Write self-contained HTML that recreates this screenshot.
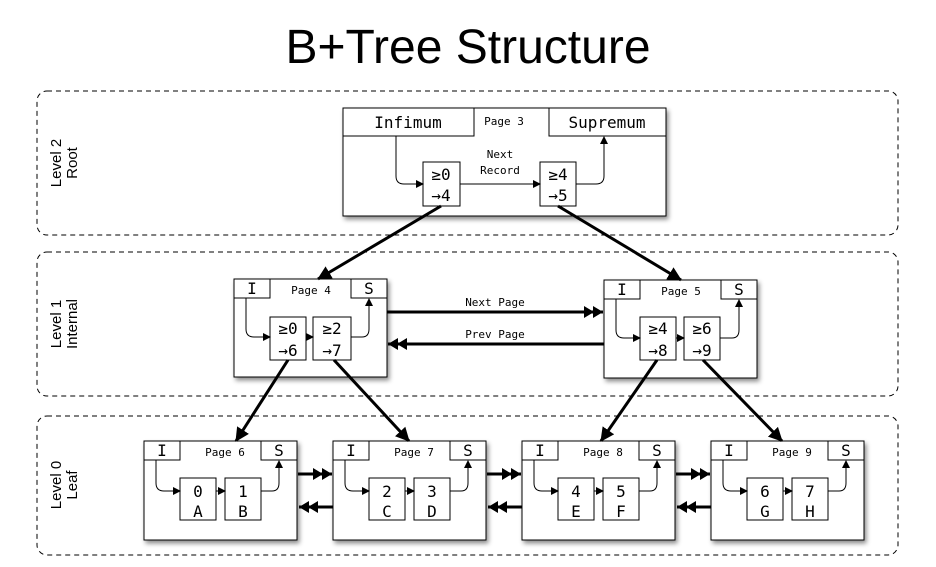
<!DOCTYPE html>
<html><head><meta charset="utf-8"><style>
body{margin:0;background:#fff;width:936px;height:562px;overflow:hidden}
svg text{font-family:"DejaVu Sans Mono","Liberation Mono",monospace;fill:#000}
</style></head><body>
<svg width="936" height="562" viewBox="0 0 936 562" xmlns="http://www.w3.org/2000/svg">
<defs>
<filter id="sh" x="-10%" y="-10%" width="130%" height="130%"><feDropShadow dx="2" dy="3" stdDeviation="2.5" flood-color="#000" flood-opacity="0.45"/></filter>
<marker id="sa" markerWidth="8" markerHeight="8" refX="7" refY="4" orient="auto" markerUnits="userSpaceOnUse"><path d="M0,0 L8,4 L0,8 z"/></marker>
<marker id="ba" markerWidth="14" markerHeight="14" refX="13" refY="7" orient="auto" markerUnits="userSpaceOnUse"><path d="M0,0 L14,7 L0,14 z"/></marker>
<marker id="da" markerWidth="20" markerHeight="12" refX="19" refY="6" orient="auto" markerUnits="userSpaceOnUse"><path d="M0,0 L10,6 L0,12 z M9,0 L19,6 L9,12 z"/></marker>
<g id="leafc" fill="none" stroke="#000" stroke-width="1">
<path d="M12,19 L12,42 Q12,50 20,50 L36,50" marker-end="url(#sa)"/>
<path d="M72,50 L81,50" marker-end="url(#sa)"/>
<path d="M117,50 L128,50 Q135,50 135,42 L135,20" marker-end="url(#sa)"/>
</g>
</defs>
<text x="468" y="63" text-anchor="middle" style="font-family:'Liberation Sans',sans-serif;font-size:48px">B+Tree Structure</text>
<g fill="none" stroke="#000" stroke-dasharray="5,4" stroke-width="1">
<rect x="37" y="91" width="861" height="144" rx="10"/>
<rect x="37" y="252" width="861" height="144" rx="10"/>
<rect x="37" y="416" width="861" height="139" rx="10"/>
</g>
<g font-size="15" text-anchor="middle">
<text transform="translate(61,163) rotate(-90)" style="font-family:'Liberation Sans',sans-serif">Level 2</text>
<text transform="translate(77,163) rotate(-90)" style="font-family:'Liberation Sans',sans-serif">Root</text>
<text transform="translate(61,324) rotate(-90)" style="font-family:'Liberation Sans',sans-serif">Level 1</text>
<text transform="translate(77,324) rotate(-90)" style="font-family:'Liberation Sans',sans-serif">Internal</text>
<text transform="translate(61,485) rotate(-90)" style="font-family:'Liberation Sans',sans-serif">Level 0</text>
<text transform="translate(77,485) rotate(-90)" style="font-family:'Liberation Sans',sans-serif">Leaf</text>
</g>

<rect x="343" y="108" width="323" height="108" fill="#fff" stroke="#000" filter="url(#sh)"/>
<g fill="none" stroke="#000">
<rect x="343" y="108" width="131" height="28"/>
<rect x="549" y="108" width="117" height="28"/>
<rect x="423" y="162" width="37" height="44"/>
<rect x="540" y="162" width="36" height="44"/>
<path d="M396,136 L396,176 Q396,184 404,184 L423,184" marker-end="url(#sa)"/>
<path d="M460,184 L540,184" marker-end="url(#sa)"/>
<path d="M576,184 L596,184 Q604,184 604,176 L604,137" marker-end="url(#sa)"/>
</g>
<text x="408" y="128" font-size="16" text-anchor="middle">Infimum</text>
<text x="607" y="128" font-size="16" text-anchor="middle">Supremum</text>
<text x="504" y="125" font-size="11" text-anchor="middle">Page 3</text>
<text x="500" y="158" font-size="11" text-anchor="middle">Next</text>
<text x="500" y="174" font-size="11" text-anchor="middle">Record</text>
<text x="441" y="180" font-size="16" text-anchor="middle">≥0</text>
<text x="441" y="201" font-size="16" text-anchor="middle">→4</text>
<text x="558" y="180" font-size="16" text-anchor="middle">≥4</text>
<text x="558" y="201" font-size="16" text-anchor="middle">→5</text>

<g transform="translate(234,279)">
<rect width="153" height="98" fill="#fff" stroke="#000" filter="url(#sh)"/>
<g fill="none" stroke="#000"><rect width="36" height="19"/><rect x="117" width="36" height="19"/><rect x="36" y="38" width="36" height="43"/><rect x="79" y="38" width="38" height="43"/>
<path d="M12,19 L12,50 Q12,58 20,58 L36,58" marker-end="url(#sa)"/><path d="M72,58 L79,58" marker-end="url(#sa)"/><path d="M117,58 L128,58 Q135,58 135,50 L135,20" marker-end="url(#sa)"/></g>
<text x="18" y="15" font-size="16" text-anchor="middle">I</text><text x="135" y="15" font-size="16" text-anchor="middle">S</text>
<text x="77" y="15" font-size="11" text-anchor="middle">Page 4</text>
<text x="54" y="55" font-size="16" text-anchor="middle">≥0</text><text x="54" y="77" font-size="16" text-anchor="middle">→6</text>
<text x="98" y="55" font-size="16" text-anchor="middle">≥2</text><text x="98" y="77" font-size="16" text-anchor="middle">→7</text>
</g>
<g transform="translate(604,280)">
<rect width="153" height="98" fill="#fff" stroke="#000" filter="url(#sh)"/>
<g fill="none" stroke="#000"><rect width="36" height="19"/><rect x="117" width="36" height="19"/><rect x="36" y="37" width="36" height="43"/><rect x="80" y="37" width="36" height="43"/>
<path d="M12,19 L12,50 Q12,58 20,58 L36,58" marker-end="url(#sa)"/><path d="M72,58 L80,58" marker-end="url(#sa)"/><path d="M116,58 L128,58 Q135,58 135,50 L135,20" marker-end="url(#sa)"/></g>
<text x="18" y="15" font-size="16" text-anchor="middle">I</text><text x="135" y="15" font-size="16" text-anchor="middle">S</text>
<text x="77" y="15" font-size="11" text-anchor="middle">Page 5</text>
<text x="54" y="54" font-size="16" text-anchor="middle">≥4</text><text x="54" y="76" font-size="16" text-anchor="middle">→8</text>
<text x="98" y="54" font-size="16" text-anchor="middle">≥6</text><text x="98" y="76" font-size="16" text-anchor="middle">→9</text>
</g>

<g transform="translate(144,441)">
<rect width="153" height="99" fill="#fff" stroke="#000" filter="url(#sh)"/>
<g fill="none" stroke="#000"><rect width="36" height="19"/><rect x="117" width="36" height="19"/><rect x="36" y="37" width="36" height="42"/><rect x="81" y="37" width="36" height="42"/></g>
<use href="#leafc"/>
<text x="18" y="15" font-size="16" text-anchor="middle">I</text><text x="135" y="15" font-size="16" text-anchor="middle">S</text>
<text x="81" y="15" font-size="11" text-anchor="middle">Page 6</text>
<text x="54" y="56" font-size="16" text-anchor="middle">0</text><text x="54" y="76" font-size="16" text-anchor="middle">A</text>
<text x="99" y="56" font-size="16" text-anchor="middle">1</text><text x="99" y="76" font-size="16" text-anchor="middle">B</text>
</g>
<g transform="translate(333,441)">
<rect width="153" height="99" fill="#fff" stroke="#000" filter="url(#sh)"/>
<g fill="none" stroke="#000"><rect width="36" height="19"/><rect x="117" width="36" height="19"/><rect x="36" y="37" width="36" height="42"/><rect x="81" y="37" width="36" height="42"/></g>
<use href="#leafc"/>
<text x="18" y="15" font-size="16" text-anchor="middle">I</text><text x="135" y="15" font-size="16" text-anchor="middle">S</text>
<text x="81" y="15" font-size="11" text-anchor="middle">Page 7</text>
<text x="54" y="56" font-size="16" text-anchor="middle">2</text><text x="54" y="76" font-size="16" text-anchor="middle">C</text>
<text x="99" y="56" font-size="16" text-anchor="middle">3</text><text x="99" y="76" font-size="16" text-anchor="middle">D</text>
</g>
<g transform="translate(522,441)">
<rect width="153" height="99" fill="#fff" stroke="#000" filter="url(#sh)"/>
<g fill="none" stroke="#000"><rect width="36" height="19"/><rect x="117" width="36" height="19"/><rect x="36" y="37" width="36" height="42"/><rect x="81" y="37" width="36" height="42"/></g>
<use href="#leafc"/>
<text x="18" y="15" font-size="16" text-anchor="middle">I</text><text x="135" y="15" font-size="16" text-anchor="middle">S</text>
<text x="81" y="15" font-size="11" text-anchor="middle">Page 8</text>
<text x="54" y="56" font-size="16" text-anchor="middle">4</text><text x="54" y="76" font-size="16" text-anchor="middle">E</text>
<text x="99" y="56" font-size="16" text-anchor="middle">5</text><text x="99" y="76" font-size="16" text-anchor="middle">F</text>
</g>
<g transform="translate(711,441)">
<rect width="153" height="99" fill="#fff" stroke="#000" filter="url(#sh)"/>
<g fill="none" stroke="#000"><rect width="36" height="19"/><rect x="117" width="36" height="19"/><rect x="36" y="37" width="36" height="42"/><rect x="81" y="37" width="36" height="42"/></g>
<use href="#leafc"/>
<text x="18" y="15" font-size="16" text-anchor="middle">I</text><text x="135" y="15" font-size="16" text-anchor="middle">S</text>
<text x="81" y="15" font-size="11" text-anchor="middle">Page 9</text>
<text x="54" y="56" font-size="16" text-anchor="middle">6</text><text x="54" y="76" font-size="16" text-anchor="middle">G</text>
<text x="99" y="56" font-size="16" text-anchor="middle">7</text><text x="99" y="76" font-size="16" text-anchor="middle">H</text>
</g>

<g stroke="#000" stroke-width="3" fill="none">
<line x1="441" y1="206" x2="318" y2="279" marker-end="url(#ba)"/>
<line x1="558" y1="206" x2="681" y2="280" marker-end="url(#ba)"/>
<line x1="288" y1="360" x2="236" y2="441" marker-end="url(#ba)"/>
<line x1="334" y1="360" x2="409" y2="441" marker-end="url(#ba)"/>
<line x1="657" y1="360" x2="601" y2="441" marker-end="url(#ba)"/>
<line x1="703" y1="360" x2="782" y2="441" marker-end="url(#ba)"/>
<line x1="387" y1="312" x2="603" y2="312" marker-end="url(#da)"/>
<line x1="604" y1="344" x2="388" y2="344" marker-end="url(#da)"/>
<line x1="298" y1="474" x2="332" y2="474" marker-end="url(#da)"/>
<line x1="333" y1="507" x2="299" y2="507" marker-end="url(#da)"/>
<line x1="487" y1="474" x2="521" y2="474" marker-end="url(#da)"/>
<line x1="522" y1="507" x2="488" y2="507" marker-end="url(#da)"/>
<line x1="676" y1="474" x2="710" y2="474" marker-end="url(#da)"/>
<line x1="711" y1="507" x2="677" y2="507" marker-end="url(#da)"/>
</g>
<text x="495" y="306" font-size="11" text-anchor="middle">Next Page</text>
<text x="495" y="338" font-size="11" text-anchor="middle">Prev Page</text>
</svg>
</body></html>
